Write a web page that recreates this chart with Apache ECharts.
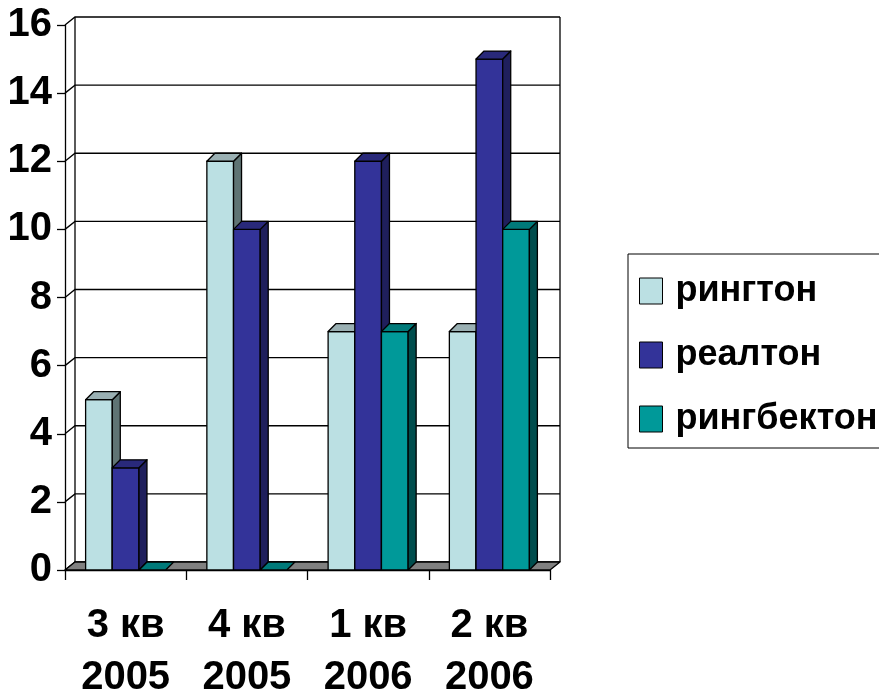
<!DOCTYPE html>
<html>
<head>
<meta charset="utf-8">
<script src="https://cdn.jsdelivr.net/npm/echarts@6/dist/echarts.min.js"></script>
<style>
  html, body { margin: 0; padding: 0; background: #fff; }
  #chart { width: 879px; height: 697px; }
</style>
</head>
<body>
<div id="chart"></div>
<script>
  var categories = ['3 кв\n2005', '4 кв\n2005', '1 кв\n2006', '2 кв\n2006'];
  var seriesNames = ['рингтон', 'реалтон', 'рингбектон'];
  var ringtone = [5, 12, 7, 7];
  var realtone = [3, 10, 12, 15];
  var ringback = [0, 0, 7, 10];
  var yTicks = [0, 2, 4, 6, 8, 10, 12, 14, 16];

  var FONT = '"Liberation Sans Narrow", "Liberation Sans", Arial, sans-serif';
  var DX = 10, DY = -8;   // depth of the walls / floor
  var BDX = 8, BDY = -8;  // depth of the bars
  var faces = [
    { front: '#BBE0E3', top: '#9AB0B3', side: '#5F7474' },
    { front: '#333399', top: '#29297A', side: '#1F1F5C' },
    { front: '#009999', top: '#007A7A', side: '#004D4D' }
  ];
  var edge = { stroke: '#000', lineWidth: 1.3, lineJoin: 'round' };

  function barRenderer(idx) {
    return function (params, api) {
      var cat = api.value(0);
      var val = api.value(1);
      var p0 = api.coord([cat, 0]);
      var p1 = api.coord([cat, val]);
      var w = api.size([1, 0])[0] * 0.22;
      var x0 = p0[0] + (idx - 1.5) * w;
      var x1 = x0 + w;
      var yb = p0[1], yt = p1[1];
      var c = faces[idx];
      var children = [];
      if (yb - yt > 0.5) {
        children.push({
          type: 'rect',
          shape: { x: x0, y: yt, width: w, height: yb - yt },
          style: Object.assign({ fill: c.front }, edge)
        });
        children.push({
          type: 'polygon',
          shape: { points: [[x1, yt], [x1 + BDX, yt + BDY], [x1 + BDX, yb + BDY], [x1, yb]] },
          style: Object.assign({ fill: c.side }, edge)
        });
      }
      children.push({
        type: 'polygon',
        shape: { points: [[x0, yt], [x1, yt], [x1 + BDX, yt + BDY], [x0 + BDX, yt + BDY]] },
        style: Object.assign({ fill: c.top }, edge)
      });
      return { type: 'group', children: children };
    };
  }

  function wallRenderer(params, api) {
    var cs = params.coordSys;
    var y = api.coord([0, api.value(1)])[1];
    var xl = cs.x, xr = cs.x + cs.width;
    return {
      type: 'polyline',
      shape: { points: [[xl, y], [xl + DX, y + DY], [xr + DX, y + DY]] },
      style: { stroke: '#000', lineWidth: 1.3, fill: null }
    };
  }

  function frameRenderer(params, api) {
    var cs = params.coordSys;
    var xl = cs.x, xr = cs.x + cs.width;
    var yt = cs.y, yb = cs.y + cs.height;
    return {
      type: 'group',
      children: [
        { type: 'line', shape: { x1: xl + DX, y1: yt + DY, x2: xl + DX, y2: yb + DY }, style: { stroke: '#000', lineWidth: 1.3 } },
        { type: 'line', shape: { x1: xr + DX, y1: yt + DY, x2: xr + DX, y2: yb + DY }, style: { stroke: '#000', lineWidth: 1.3 } },
        {
          type: 'polygon',
          shape: { points: [[xl, yb], [xr, yb], [xr + DX, yb + DY], [xl + DX, yb + DY]] },
          style: Object.assign({ fill: '#808080' }, edge)
        }
      ]
    };
  }

  var myChart = echarts.init(document.getElementById('chart'));
  var values = [ringtone, realtone, ringback];
  var barSeries = seriesNames.map(function (name, i) {
    return {
      name: name,
      type: 'custom',
      z: 3,
      renderItem: barRenderer(i),
      itemStyle: { color: faces[i].front, borderColor: '#000', borderWidth: 1 },
      encode: { x: 0, y: 1 },
      data: values[i].map(function (v, k) { return [k, v]; })
    };
  });

  myChart.setOption({
    backgroundColor: '#fff',
    animation: false,
    grid: { left: 65, right: 329, top: 25, bottom: 127, outerBoundsMode: 'none' },
    legend: {
      orient: 'vertical',
      left: 628,
      top: 254,
      padding: [17, 40, 9, 11],
      borderColor: '#000',
      borderWidth: 1,
      borderRadius: 0,
      itemWidth: 23,
      itemHeight: 26,
      itemGap: 24,
      icon: 'rect',
      itemStyle: { borderColor: '#000', borderWidth: 1 },
      textStyle: {
        fontFamily: FONT, fontWeight: 'bold', fontSize: 36, color: '#000',
        lineHeight: 40, padding: [0, 0, 0, 8]
      },
      data: seriesNames
    },
    xAxis: {
      type: 'category',
      data: categories,
      axisLine: { show: true, lineStyle: { color: '#000', width: 1.3 } },
      axisTick: { show: true, length: 10, interval: 0, lineStyle: { color: '#000', width: 1.3 } },
      axisLabel: {
        interval: 0, margin: 30, color: '#000',
        fontFamily: FONT, fontWeight: 'bold', fontSize: 40, lineHeight: 52
      }
    },
    yAxis: {
      type: 'value',
      min: 0,
      max: 16,
      interval: 2,
      axisLine: { show: true, lineStyle: { color: '#000', width: 1.3 } },
      axisTick: { show: true, length: 8, lineStyle: { color: '#000', width: 1.3 } },
      splitLine: { show: false },
      axisLabel: {
        margin: 13, color: '#000',
        fontFamily: FONT, fontWeight: 'bold', fontSize: 40
      }
    },
    series: [
      {
        type: 'custom',
        z: 1,
        silent: true,
        renderItem: wallRenderer,
        encode: { x: 0, y: 1 },
        data: yTicks.map(function (v) { return [0, v]; })
      },
      {
        type: 'custom',
        z: 2,
        silent: true,
        renderItem: frameRenderer,
        encode: { x: 0, y: 1 },
        data: [[0, 0]]
      }
    ].concat(barSeries)
  });
</script>
</body>
</html>
